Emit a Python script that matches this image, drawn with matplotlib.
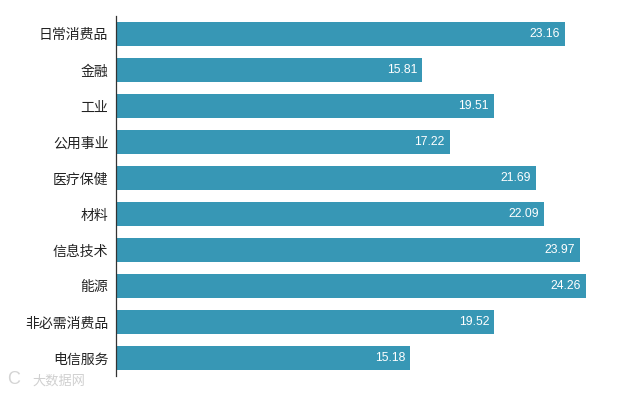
import matplotlib
matplotlib.use("Agg")
import matplotlib.pyplot as plt

plt.rcParams['font.family'] = ['Noto Sans CJK SC', 'DejaVu Sans']

categories = ["日常消费品", "金融", "工业", "公用事业", "医疗保健", "材料", "信息技术", "能源", "非必需消费品", "电信服务"]
values = [23.16, 15.81, 19.51, 17.22, 21.69, 22.09, 23.97, 24.26, 19.52, 15.18]

W, H = 634, 394
fig = plt.figure(figsize=(W/100, H/100), dpi=100, facecolor="white")
left, right, top, bottom = 116, 634, 16, 376
ax = fig.add_axes([left/W, 1-bottom/H, (right-left)/W, (bottom-top)/H])

y = list(range(len(categories)))
ax.barh(y, values, height=0.68, color="#3797b5")
ax.set_xlim(0, 518/(586-116)*24.26)
ax.set_ylim(len(categories)-0.5, -0.5)
ax.set_yticks(y)
ax.set_yticklabels(categories, fontsize=10, color="#222222")
ax.tick_params(axis='y', length=0, pad=5.5)
ax.xaxis.set_visible(False)
for s in ["top", "right", "bottom"]:
    ax.spines[s].set_visible(False)
ax.spines["left"].set_color("#333333")
ax.spines["left"].set_linewidth(0.9)

for yi, v in zip(y, values):
    ax.annotate(f"{v:.2f}", (v, yi), xytext=(-3.6, 0), textcoords="offset points",
                ha="right", va="center", color="white", fontsize=8.7,
                family=["Liberation Sans", "DejaVu Sans"])

fig.text(7/W, 1-380/H, "C", fontsize=13, color="#d4d4d4", ha="left", va="center",
         family=["Liberation Sans", "DejaVu Sans"])
fig.text(32/W, 1-381/H, "大数据网", fontsize=9.5, color="#d0d0d0", ha="left", va="center")
fig.savefig("out.png", dpi=100)
